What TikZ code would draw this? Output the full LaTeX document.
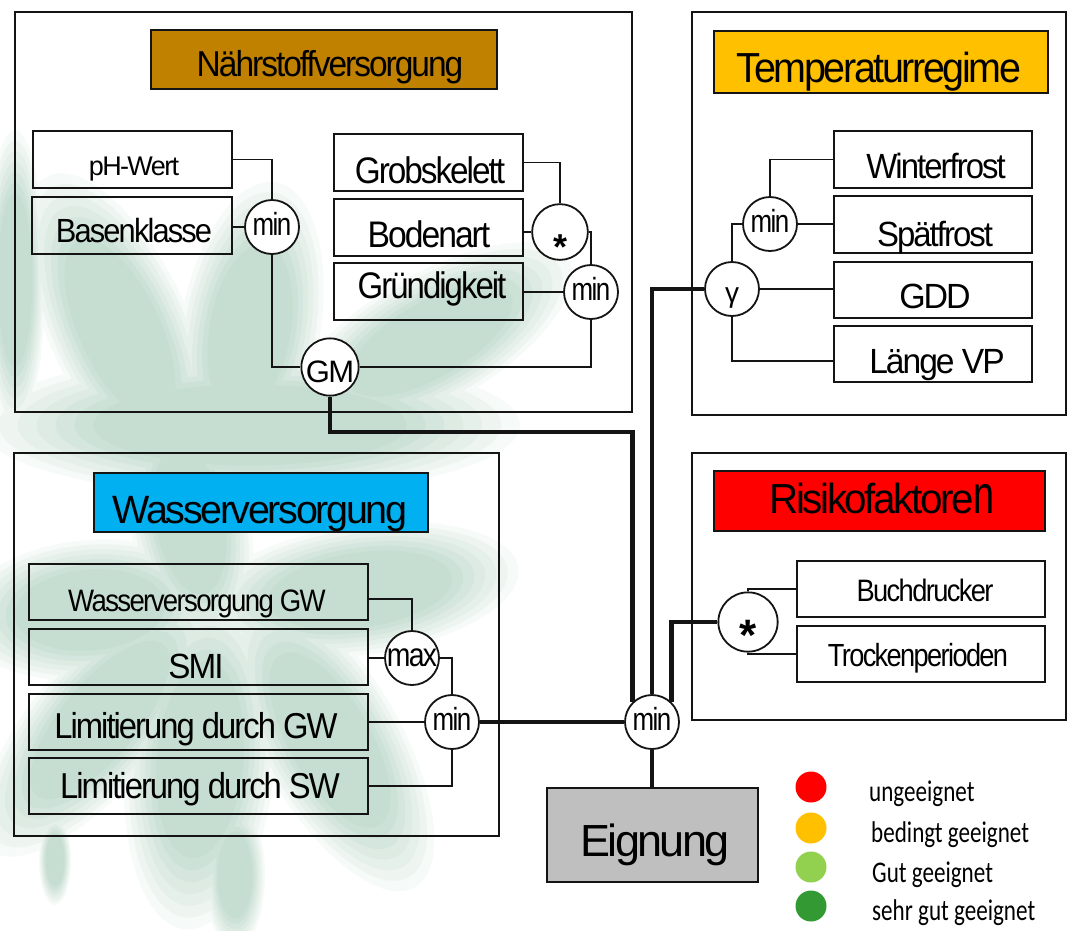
\documentclass[tikz,border=0pt]{standalone}
\usepackage{fontspec}
\setmainfont{Liberation Sans}[LetterSpace=-6]
\newfontfamily\legfont{Carlito}
\usepackage{graphicx}
\newcommand\fs[1]{\fontsize{#1}{#1}\selectfont}
\newcommand\sx[2]{\scalebox{#1}[1]{#2}}
\newcommand\rbox[6]{\node[#1, minimum width={#5-#3}, minimum height={#6-#4}] (#2) at ({(#3+#5)/2},{(#4+#6)/2}) {};}
\definecolor{wmcol}{RGB}{198,222,209}
\definecolor{brownT}{RGB}{192,128,0}
\definecolor{orangeT}{RGB}{255,192,0}
\definecolor{blueT}{RGB}{0,176,240}
\definecolor{redT}{RGB}{255,0,0}
\definecolor{grayT}{RGB}{191,191,191}
\definecolor{lgreen}{RGB}{146,208,80}
\definecolor{dgreen}{RGB}{51,153,51}
\definecolor{ln}{RGB}{20,20,20}
\tikzset{
  outerbox/.style={draw=ln, line width=1.8pt, inner sep=0pt},
  titlebox/.style={draw=ln, line width=2.4pt, inner sep=0pt},
  ibox/.style={draw=ln, line width=2.2pt, inner sep=0pt},
  conn/.style={draw=ln, line width=1.8pt},
  thickconn/.style={draw=ln, line width=4.8pt},
  op/.style={circle, draw=ln, line width=1.8pt, fill=white, minimum size=54pt, inner sep=0pt, text height=16.5pt, text depth=0pt},
  lbl/.style={anchor=base, inner sep=0pt},
  leglbl/.style={anchor=base west, inner sep=0pt, font=\legfont\fs{30}},
  legdot/.style={circle, minimum size=31pt, inner sep=0pt},
}
\begin{document}
\begin{tikzpicture}[x=1pt,y=-1pt]
\useasboundingbox (0,0) rectangle (1068,930);
% watermark (soft, blurred leaves), layered from light outer to stronger inner
\foreach \k/\p in {1/15,0.93/30,0.86/45,0.79/60,0.72/75,0.65/88,0.58/100}{
  \foreach \cx/\cy/\a/\b/\t in {
    250/425/270/70/0, 120/330/170/70/115, 250/330/150/70/80, 430/340/160/65/30,
    360/590/160/65/8, 330/740/170/70/-60, 200/760/170/75/-95, 90/610/130/70/185,
    100/720/170/65/-130, 15/280/150/30/90, 190/520/130/60/100,
    235/875/75/30/90, 55/860/45/16/90}{
    \fill[wmcol!\p!white, rotate around={\t:(\cx,\cy)}] (\cx,\cy) ellipse [x radius=\k*\a, y radius=\k*\b];
  }
}
% outer boxes
\rbox{outerbox}{NB}{15}{12}{632}{412}
\rbox{outerbox}{TB}{692}{12}{1066}{415}
\rbox{outerbox}{WB}{14}{453}{499}{836}
\rbox{outerbox}{RB}{692}{453}{1066}{720}
% circles
\node[op] (m1) at (272,227) {\fs{32}\sx{0.81}{min}};
\node[op, text height=31pt] (gm) at (330,367) {\fs{31}GM};
\node[op, text height=54pt] (st) at (560,232) {\fs{36}\bfseries *};
\node[op] (m2) at (591,292) {\fs{32}\sx{0.81}{min}};
\node[op] (tm) at (770,224) {\fs{32}\sx{0.81}{min}};
\node[op, text height=26pt] (ga) at (732,289) {\fs{28}γ};
\node[op] (mx) at (412,658) {\fs{33}\sx{0.86}{max}};
\node[op] (wmin) at (452,722) {\fs{32}\sx{0.81}{min}};
\node[op] (cm) at (652,722) {\fs{32}\sx{0.81}{min}};
\node[op, text height=57pt] (st2) at (748,622) {\fs{44}\bfseries *};
% inner boxes
\rbox{ibox}{ph}{33}{131}{232}{188}
\rbox{ibox}{bk}{32}{197}{232}{254}
\rbox{ibox}{gs}{334}{134}{523}{191}
\rbox{ibox}{bo}{334}{199}{523}{256}
\rbox{ibox}{gr}{334}{263}{523}{320}
\rbox{ibox}{wf}{834}{131}{1032}{188}
\rbox{ibox}{sp}{834}{196}{1032}{253}
\rbox{ibox}{gd}{834}{262}{1032}{318}
\rbox{ibox}{lv}{834}{326}{1032}{382}
\rbox{ibox}{wg}{29}{564}{368}{620}
\rbox{ibox}{sm}{29}{629}{368}{685}
\rbox{ibox}{lg}{29}{694}{368}{750}
\rbox{ibox}{ls}{29}{758}{368}{814}
\rbox{ibox}{bd}{797}{561}{1045}{617}
\rbox{ibox}{tp}{797}{626}{1045}{682}
\rbox{ibox, fill=grayT}{eg}{547}{788}{758}{882}
% title boxes
\rbox{titlebox, fill=brownT}{NT}{151}{30}{497}{89}
\rbox{titlebox, fill=orangeT}{TT}{714}{31}{1048}{93}
\rbox{titlebox, fill=blueT}{WT}{94}{473}{428}{532}
\rbox{titlebox, fill=redT}{RT}{714}{471}{1045}{531}
% thin connectors
\draw[conn] (ph.east) -| (m1.north);
\draw[conn] (m1.west) -- (m1.west -| bk.east);
\draw[conn] (m1.south) |- (gm.west);
\draw[conn] (gs.east) -| (st.north);
\draw[conn] (st.west) -- (st.west -| bo.east);
\draw[conn] (st.east) -| (m2.north);
\draw[conn] (m2.west) -- (m2.west -| gr.east);
\draw[conn] (m2.south) |- (gm.east);
\draw[conn] (wf.west) -| (tm.north);
\draw[conn] (tm.east) -- (tm.east -| sp.west);
\draw[conn] (tm.west) -| (ga.north);
\draw[conn] (ga.east) -- (ga.east -| gd.west);
\coordinate (k2) at (0,361);
\draw[conn] (ga.south) |- (lv.west |- k2);
\coordinate (k3) at (0,599);
\draw[conn] (wg.east |- k3) -| (mx.north);
\draw[conn] (mx.west) -- (mx.west -| sm.east);
\draw[conn] (mx.east) -| (wmin.north);
\draw[conn] (wmin.west) -- (wmin.west -| lg.east);
\draw[conn] (wmin.south) |- (ls.east);
\draw[conn] (bd.west) -| (st2.north);
\draw[conn] (st2.south) |- (tp.west);
% thick connectors
\coordinate (k1) at (0,432);
\draw[thickconn] (gm.south) |- (cm.north west |- k1) -- (cm.north west);
\draw[thickconn] (ga.west) -| (cm.north);
\draw[thickconn] (st2.west) -| (cm.north east);
\draw[thickconn] (wmin.east) -- (cm.west);
\draw[thickconn] (cm.south) -- (cm.south |- eg.north);
% texts
\node[lbl, font=\fs{36}] (tNT) at (330,76) {\sx{0.93}{Nährstoffversorgung}};
\node[lbl, font=\fs{42}] (tTT) at (879,82) {\sx{0.94}{Temperaturregime}};
\node[lbl, font=\fs{39.5}] (tWT) at (260,523) {\sx{1.0}{Wasserversorgung}};
\node[lbl, font=\fs{42}] (tRT) at (882,513) {\sx{0.96}{Risikofaktore}\sx{0.7}{\fs{54}n}};
\node[lbl, font=\fs{27}] (tph) at (134,175) {\sx{1.0}{pH-Wert}};
\node[lbl, font=\fs{33.5}] (tbk) at (134,242) {\sx{0.92}{Basenklasse}};
\node[lbl, font=\fs{37}] (tgs) at (430,183) {\sx{0.90}{Grobskelett}};
\node[lbl, font=\fs{37}] (tbo) at (429,247) {\sx{0.91}{Bodenart}};
\node[lbl, font=\fs{37}] (tgr) at (432,298) {\sx{0.89}{Gründigkeit}};
\node[lbl, font=\fs{35}] (twf) at (936,178) {\sx{0.94}{Winterfrost}};
\node[lbl, font=\fs{35}] (tsp) at (935,246) {\sx{0.94}{Spätfrost}};
\node[lbl, font=\fs{35}] (tgd) at (935,308) {\sx{0.97}{GDD}};
\node[lbl, font=\fs{35}] (tlv) at (937,373) {\sx{0.96}{Länge VP}};
\node[lbl, font=\fs{31}] (twg) at (197,611) {\sx{0.89}{Wasserversorgung GW}};
\node[lbl, font=\fs{35}] (tsm) at (196,678) {\sx{0.95}{SMI}};
\node[lbl, font=\fs{36}] (tlg) at (196,738) {\sx{0.91}{Limitierung durch GW}};
\node[lbl, font=\fs{36}] (tls) at (200,798) {\sx{0.91}{Limitierung durch SW}};
\node[lbl, font=\fs{31}] (tbd) at (925,601) {\sx{0.88}{Buchdrucker}};
\node[lbl, font=\fs{32}] (ttp) at (918,666) {\sx{0.85}{Trockenperioden}};
\node[lbl, font=\fs{45}] (teg) at (655,856) {\sx{1.0}{Eignung}};
% legend
\node[legdot, fill=redT] (lg1) at (811,787) {};
\node[legdot, fill=orangeT] (lg2) at (811,828) {};
\node[legdot, fill=lgreen] (lg3) at (811,867) {};
\node[legdot, fill=dgreen] (lg4) at (811,906) {};
\node[leglbl] (lt1) at (869,801) {\sx{0.77}{ungeeignet}};
\node[leglbl] (lt2) at (871,842) {\sx{0.77}{bedingt geeignet}};
\node[leglbl] (lt3) at (872,882) {\sx{0.77}{Gut geeignet}};
\node[leglbl] (lt4) at (872,920) {\sx{0.77}{sehr gut geeignet}};
\end{tikzpicture}
\end{document}
